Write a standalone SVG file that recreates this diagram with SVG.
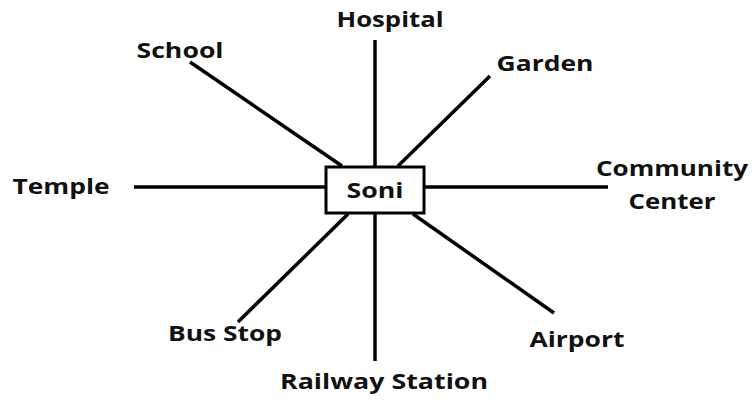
<svg xmlns="http://www.w3.org/2000/svg" width="752" height="400" viewBox="0 0 752 400">
<style>
.lbl{font-family:"Open Sans","DejaVu Sans",sans-serif;font-weight:bold;font-size:22px;fill:#111;}
.ln{stroke:#000;stroke-width:3.5;fill:none;}
</style>
<rect width="752" height="400" fill="#fff"/>
<g id="connectors">
<line class="ln" x1="375" y1="40" x2="375" y2="167"/>
<line class="ln" x1="375" y1="213" x2="375" y2="361"/>
<line class="ln" x1="190" y1="62" x2="342" y2="166"/>
<line class="ln" x1="398" y1="166" x2="490" y2="76"/>
<line class="ln" x1="134" y1="187" x2="326" y2="187"/>
<line class="ln" x1="424" y1="187" x2="608" y2="187"/>
<line class="ln" x1="413" y1="214" x2="554" y2="313"/>
<line class="ln" x1="348" y1="214" x2="238" y2="322"/>
</g>
<g id="soni">
<rect x="326" y="167" width="98" height="46" fill="#fff" stroke="#000" stroke-width="3"/>
<text class="lbl" x="375" y="198" text-anchor="middle" textLength="57" lengthAdjust="spacingAndGlyphs">Soni</text>
</g>
<g id="hospital"><text class="lbl" x="390" y="27" text-anchor="middle" textLength="107" lengthAdjust="spacingAndGlyphs">Hospital</text></g>
<g id="school"><text class="lbl" x="180" y="58" text-anchor="middle" textLength="87" lengthAdjust="spacingAndGlyphs">School</text></g>
<g id="garden"><text class="lbl" x="545" y="71" text-anchor="middle" textLength="97" lengthAdjust="spacingAndGlyphs">Garden</text></g>
<g id="temple"><text class="lbl" x="61" y="194" text-anchor="middle" textLength="97" lengthAdjust="spacingAndGlyphs">Temple</text></g>
<g id="community-center">
<text class="lbl" x="672" y="176" text-anchor="middle" textLength="152" lengthAdjust="spacingAndGlyphs">Community</text>
<text class="lbl" x="672" y="209" text-anchor="middle" textLength="87" lengthAdjust="spacingAndGlyphs">Center</text>
</g>
<g id="airport"><text class="lbl" x="577" y="347" text-anchor="middle" textLength="95" lengthAdjust="spacingAndGlyphs">Airport</text></g>
<g id="bus-stop"><text class="lbl" x="225" y="341" text-anchor="middle" textLength="114" lengthAdjust="spacingAndGlyphs">Bus Stop</text></g>
<g id="railway-station"><text class="lbl" x="384" y="389" text-anchor="middle" textLength="208" lengthAdjust="spacingAndGlyphs">Railway Station</text></g>
</svg>
